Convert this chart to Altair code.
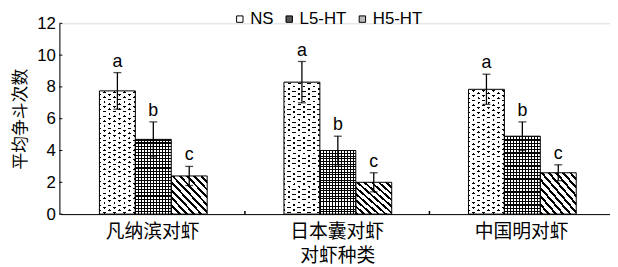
import altair as alt
import pandas as pd

groups = ["凡纳滨对虾", "日本囊对虾", "中国明对虾"]
series = ["NS", "L5-HT", "H5-HT"]
ns_mean = [7.75, 8.3, 7.85]
ns_err = [1.15, 1.3, 0.95]
l5_mean = [4.7, 4.0, 4.9]
l5_err = [1.1, 0.9, 0.9]
h5_mean = [2.4, 2.0, 2.6]
h5_err = [0.6, 0.6, 0.5]
letters = ["a", "b", "c"]
y_ticks = [0, 2, 4, 6, 8, 10, 12]

rows = []
for s, means, errs, let in zip(series, [ns_mean, l5_mean, h5_mean],
                               [ns_err, l5_err, h5_err], letters):
    for g, m, e in zip(groups, means, errs):
        rows.append(dict(group=g, series=s, value=m, lo=m - e, hi=m + e, letter=let))
df = pd.DataFrame(rows)

CLEAR = "rgba(255,255,255,0)"


def stripes(n, frac, line, gap, x1, y1, x2, y2):
    """Hard-edged repeating stripes: n periods (may be fractional) over [0,1]."""
    stops = []
    i = 0
    while i / n < 1:
        a = i / n
        b = min((i + frac) / n, 1)
        c = min((i + 1) / n, 1)
        stops += [(a, line), (b, line), (b, gap), (c, gap)]
        i += 1
    return alt.LinearGradient(
        gradient="linear",
        stops=[alt.GradientStop(offset=round(o, 4), color=col) for o, col in stops],
        x1=x1, y1=y1, x2=x2, y2=y2,
    )


# staggered dot lattice for NS bars (two diagonal families of white stripes)
_bw, _bh, _px, _py = 36.0, 128.0, 10.0, 5.0
_a, _b = _bw / _px, _bh / _py
_n = _a + _b
_lam = _n / (_a * _a + _b * _b)
_p, _q = _lam * _a, _lam * _b
dots_a = stripes(_n, 0.62, "white", CLEAR, 0, 0, _p, _q)
dots_b = stripes(_n, 0.62, "white", CLEAR, 0, 1, _p, 1 - _q)

LBL_FONT = "Liberation Sans"
CJK = "Noto Sans CJK SC"

X_SCALE = alt.Scale(range=[1, 561], paddingInner=0, paddingOuter=0)
X_AXIS = alt.Axis(title="对虾种类", ticks=False, labelAngle=0, labelFont=CJK,
                  labelFontSize=19, labelColor="black", labelPadding=9,
                  titleFont=CJK, titleFontSize=19, titleFontWeight="normal",
                  titleColor="black", titlePadding=5, domainColor="black",
                  grid=False)
X = alt.X("group:N", sort=groups, scale=X_SCALE, axis=X_AXIS)
XO = alt.XOffset("series:N", sort=series,
                 scale=alt.Scale(range=[39.5, 148.5], paddingInner=0, paddingOuter=0))


def Y(field):
    return alt.Y(f"{field}:Q", scale=alt.Scale(domain=[0, 12], nice=False),
                 axis=alt.Axis(title="平均争斗次数", values=y_ticks, ticks=False,
                               grid=False, labelFont=LBL_FONT, labelFontSize=17,
                               labelColor="black", labelPadding=4,
                               titleFont=CJK, titleFontSize=17,
                               titleFontWeight="normal", titleColor="black",
                               titlePadding=7, domainColor="black"))


base = alt.Chart(df)


def bars(sel, fill):
    return base.transform_filter(alt.datum.series == sel).mark_bar(
        fill=fill, strokeWidth=0).encode(x=X, xOffset=XO, y=Y("value"))


# NS: dotted
ns_black = bars("NS", "black")
ns_da = bars("NS", dots_a)
ns_db = bars("NS", dots_b)
# L5: fine checker / crosshatch
l5_white = bars("L5-HT", "white")
l5_cols = bars("L5-HT", stripes(12, 0.36, "black", CLEAR, 0, 0, 1, 0))
l5_rows = bars("L5-HT", stripes(24, 0.36, "black", CLEAR, 0, 0, 0, 1))
# H5: diagonal stripes
h5_white = bars("H5-HT", "white")
h5_diag = bars("H5-HT", stripes(10, 0.38, "black", CLEAR, 0, 1, 1, 0))

outline = base.mark_bar(fill=CLEAR, stroke="black", strokeWidth=1).encode(
    x=X, xOffset=XO, y=Y("value"))

legend_layer = base.mark_square(size=42, opacity=0).encode(
    x=X, xOffset=XO, y=Y("value"),
    color=alt.Color("series:N", sort=series,
                    scale=alt.Scale(domain=series, range=["white", "#555555", "#bbbbbb"]),
                    legend=alt.Legend(orient="none", legendX=174, legendY=-13,
                                      direction="horizontal", title=None,
                                      symbolType="square", symbolSize=42,
                                      symbolStrokeColor="black", symbolStrokeWidth=1,
                                      symbolOpacity=1, labelFont=LBL_FONT,
                                      labelFontSize=17, labelColor="black",
                                      labelOffset=2, columnPadding=7)))

err_rule = base.mark_rule(color="black", strokeWidth=1.3).encode(
    x=X, xOffset=XO, y=Y("lo"), y2="hi:Q")
cap_hi = base.mark_tick(color="black", thickness=1.3, size=8).encode(
    x=X, xOffset=XO, y=Y("hi"))
cap_lo = base.mark_tick(color="black", thickness=1.3, size=8).encode(
    x=X, xOffset=XO, y=Y("lo"))
labels = base.mark_text(baseline="bottom", dy=-2, fontSize=18, font=LBL_FONT,
                        color="black").encode(
    x=X, xOffset=XO, y=Y("hi"), text="letter:N")

ytick_df = pd.DataFrame({"t": y_ticks})
yticks = alt.Chart(ytick_df).mark_rule(color="black", strokeWidth=1).encode(
    y=Y("t"), x=alt.value(0), x2=alt.value(3))

xtick_df = pd.DataFrame({"group": groups[1:], "y0": [0, 0], "y1": [0.2, 0.2]})
xticks = alt.Chart(xtick_df).mark_rule(color="black", strokeWidth=1.5).encode(
    x=alt.X("group:N", sort=groups, bandPosition=0, scale=X_SCALE, axis=X_AXIS),
    y=Y("y0"), y2="y1:Q")

chart = alt.layer(
    legend_layer, ns_black, ns_da, ns_db, l5_white, l5_cols, l5_rows,
    h5_white, h5_diag, outline, err_rule, cap_hi, cap_lo, labels, yticks, xticks
).properties(
    width=557, height=193,
    autosize=alt.AutoSizeParams(type="none"),
    padding={"left": 52, "top": 14, "right": 0, "bottom": 51},
).configure_view(stroke=None).configure(background="white")

chart.save("out.html", embed_options={"renderer": "svg", "actions": False})
